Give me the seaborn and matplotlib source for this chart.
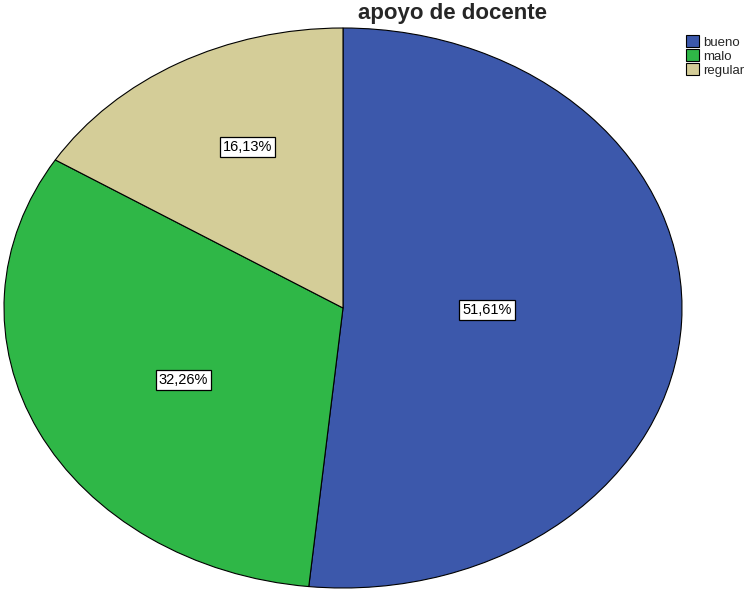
import matplotlib
matplotlib.use("Agg")
import matplotlib.pyplot as plt
import seaborn as sns
import numpy as np

categories = ["bueno", "malo", "regular"]
percentages = [51.61, 32.26, 16.13]
colors_hex = ["#3C58AB", "#2FB747", "#D4CD98"]
label_dist = [0.425, 0.537, 0.64]
label_angle_shift = [2.0, 2.5, -3.0]

sns.set_style("white")
plt.rcParams["font.family"] = ["Liberation Sans", "DejaVu Sans"]
palette = sns.color_palette(colors_hex)

fig = plt.figure(figsize=(7.55, 5.92), dpi=100)
ax = fig.add_axes([0, 0, 1, 1])

wedges, texts, autotexts = ax.pie(
    percentages,
    colors=palette,
    startangle=90,
    counterclock=False,
    autopct=lambda p: f"{p:.2f}%".replace(".", ","),
    pctdistance=0.6,
    wedgeprops=dict(edgecolor="black", linewidth=0.8),
    textprops=dict(fontsize=10.5),
)
for w, t, d, s in zip(wedges, autotexts, label_dist, label_angle_shift):
    ang = np.deg2rad((w.theta1 + w.theta2) / 2 + s)
    t.set_position((d * np.cos(ang), d * np.sin(ang)))
    t.set_bbox(dict(boxstyle="square,pad=0.2", facecolor="white", edgecolor="black", linewidth=0.9))
    t.set_color("black")

ax.set_aspect("auto")
rx, ry = 339.0, 280.0
ax.set_xlim(-1 - 4 / rx, 1 + (755 - 682) / rx)
ax.set_ylim(-1 - (592 - 588) / ry, 1 + 28 / ry)
ax.axis("off")

fig.text(453 / 755, 1 - 14 / 592, "apoyo de docente", ha="center", va="center",
         fontsize=16, fontweight="bold")

leg = ax.legend(wedges, categories, loc="upper left", bbox_to_anchor=(677 / 755, 1 - 26 / 592),
                bbox_transform=fig.transFigure, frameon=False, fontsize=9.5,
                handlelength=1.0, handleheight=1.0, handletextpad=0.25,
                labelspacing=0.05, borderpad=0.2)

fig.savefig("out.png", dpi=100)
